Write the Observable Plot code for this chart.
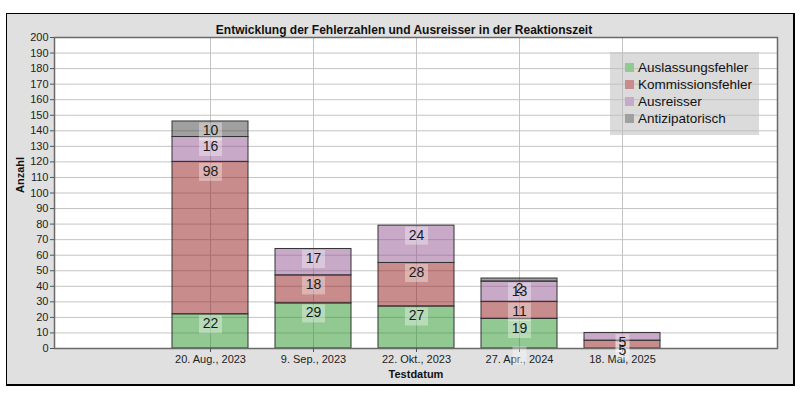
<!DOCTYPE html>
<html>
<head>
<meta charset="utf-8">
<script src="https://cdn.jsdelivr.net/npm/d3@7"></script>
<script src="https://cdn.jsdelivr.net/npm/@observablehq/plot@0.6"></script>
<style>
  html, body { margin: 0; padding: 0; background: #ffffff; }
  #wrap { position: relative; width: 805px; height: 396px; overflow: hidden; font-family: "Liberation Sans", Arial, sans-serif; }
  #panel { position: absolute; left: 6px; top: 13px; width: 786px; height: 370px; background: #e0e0e0; border: 1px solid #000; border-right-width: 2px; border-bottom-width: 2px; }
  #chart { position: absolute; left: 0; top: 0; }
  #legend { position: absolute; left: 610px; top: 52px; width: 149px; height: 83px; background: rgba(190,190,190,0.55); box-sizing: border-box; padding: 7px 0 0 15px; }
  .item { height: 17px; line-height: 17px; font-size: 13.5px; color: #111; white-space: nowrap; }
  .sw { display: inline-block; width: 9px; height: 9px; margin-right: 4px; vertical-align: -0px; }
</style>
</head>
<body>
<div id="wrap">
  <div id="panel"></div>
  <div id="chart"></div>
  <div id="legend"></div>
</div>
<script>
const dates = ["20. Aug., 2023", "9. Sep., 2023", "22. Okt., 2023", "27. Apr., 2024", "18. Mai, 2025"];
const types = ["Auslassungsfehler", "Kommissionsfehler", "Ausreisser", "Antizipatorisch"];
const auslassungsfehler = [22, 29, 27, 19, 0];
const kommissionsfehler = [98, 18, 28, 11, 5];
const ausreisser = [16, 17, 24, 13, 5];
const antizipatorisch = [10, 0, 0, 2, 0];
const yTicks = d3.range(0, 201, 10);
const baseColors = ["#259325", "#931919", "#915591", "#414141"];
const legendColors = ["#92c992", "#c98c8c", "#c8aac8", "#a0a0a0"];

const series = [auslassungsfehler, kommissionsfehler, ausreisser, antizipatorisch];
const data = dates.flatMap((date, i) => types.map((type, k) => ({date, type, value: series[k][i]})));
const shown = data.filter(d => d.value > 0);

function boxSymbol(w, h) {
  return {draw(ctx) { ctx.rect(-w / 2, -h / 2, w, h); }};
}
const stackOpts = {x: "date", y: "value", z: "type", order: types};

const chart = Plot.plot({
  width: 805,
  height: 396,
  marginLeft: 54,
  marginRight: 28,
  marginTop: 37,
  marginBottom: 48,
  style: {background: "transparent", fontFamily: "Liberation Sans, Arial, sans-serif", fontSize: "11px", color: "#222"},
  x: {type: "band", domain: dates, paddingInner: 0.264, paddingOuter: 1.132, label: null},
  y: {domain: [0, 200], label: null},
  color: {domain: types, range: baseColors},
  marks: [
    Plot.frame({fill: "white", stroke: "none"}),
    Plot.gridY(yTicks, {stroke: "#c4c4c4", strokeOpacity: 1}),
    Plot.gridX(dates, {stroke: "#c4c4c4", strokeOpacity: 1}),
    Plot.barY(shown, Plot.stackY({...stackOpts, fill: "type", fillOpacity: 0.5, stroke: "#333", strokeWidth: 1})),
    Plot.frame({stroke: "#6a6a6a", strokeWidth: 1.5}),
    Plot.axisY(yTicks, {tickSize: 4, tickPadding: 2, fontSize: 11, stroke: "#555", fill: "#222", label: null}),
    Plot.axisX({tickSize: 4, tickPadding: 3, fontSize: 11, stroke: "#555", fill: "#222", label: null}),
    Plot.dot(shown.filter(d => String(d.value).length === 1), Plot.stackY2({...stackOpts, dy: 10, symbol: boxSymbol(14, 18), fill: "white", fillOpacity: 0.35, stroke: "none"})),
    Plot.dot(shown.filter(d => String(d.value).length === 2), Plot.stackY2({...stackOpts, dy: 10, symbol: boxSymbol(23, 18), fill: "white", fillOpacity: 0.35, stroke: "none"})),
    Plot.text(shown, Plot.stackY2({...stackOpts, text: d => String(d.value), dy: 9.5, fontSize: 14, fill: "#1a1a1a"})),
    Plot.text(["Entwicklung der Fehlerzahlen und Ausreisser in der Reaktionszeit"], {frameAnchor: "top", dy: -12, dx: -12, fontSize: 12, fontWeight: "bold", fill: "#111"}),
    Plot.text(["Anzahl"], {frameAnchor: "left", dx: -34, rotate: -90, fontSize: 11, fontWeight: "bold", fill: "#111"}),
    Plot.text(["Testdatum"], {frameAnchor: "bottom", dy: 29, fontSize: 11, fontWeight: "bold", fill: "#111"})
  ]
});
document.getElementById("chart").appendChild(chart);

const legend = document.getElementById("legend");
types.forEach((t, i) => {
  const row = document.createElement("div");
  row.className = "item";
  const sw = document.createElement("span");
  sw.className = "sw";
  sw.style.background = legendColors[i];
  row.appendChild(sw);
  row.appendChild(document.createTextNode(t));
  legend.appendChild(row);
});
</script>
</body>
</html>
